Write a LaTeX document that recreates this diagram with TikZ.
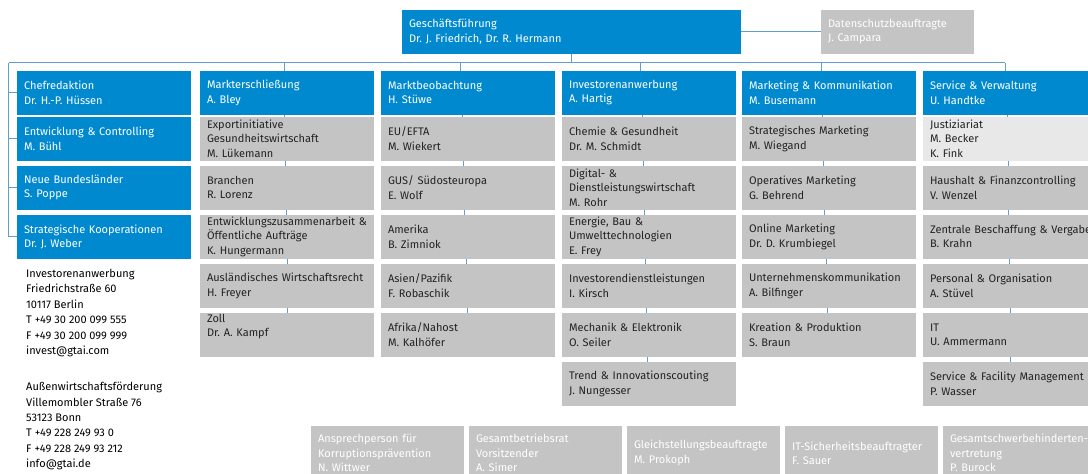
\documentclass[tikz,border=0pt]{standalone}
\usepackage{fontspec}
\setmainfont{Fira Sans}
\frenchspacing
\definecolor{gtaiblue}{RGB}{0,137,207}
\definecolor{gtaigray}{RGB}{196,196,196}
\definecolor{gtailight}{RGB}{232,232,232}
\definecolor{gtailine}{RGB}{96,158,204}
\definecolor{gtaitext}{RGB}{35,35,35}
\tikzset{
  box/.style={rectangle,anchor=north west,inner xsep=7pt,inner ysep=0pt,outer sep=0pt,
    text width=160pt,minimum height=43.5pt,align=left,font=\fontsize{11}{14.3}\selectfont},
  head/.style={box,fill=gtaiblue,text=white},
  unit/.style={box,fill=gtaigray,text=gtaitext},
  staff/.style={box,fill=gtaigray,text=white,text width=139pt,minimum height=54pt},
  addr/.style={anchor=north west,inner sep=0pt,align=left,font=\fontsize{11}{15.4}\selectfont},
  link/.style={draw=gtailine,line width=0.8pt}
}
\begin{document}
\begin{tikzpicture}[x=1pt,y=-1pt]
\useasboundingbox (0,0) rectangle (1088,474);
\clip (0,0) rectangle (1088,474);
% management
\node[head,text width=325pt] (gf) at (402,10) {Geschäftsführung\\Dr. J. Friedrich, Dr. R. Hermann};
\node[staff,minimum height=43.5pt] (ds) at (821,10) {Datenschutzbeauftragte\\J. Campara};
% departments
\node[head] (chef) at (17,71) {Chefredaktion\\Dr. H.-P. Hüssen};
\node[head] (mkt)  at (200,71) {Markterschließung\\A. Bley};
\node[head] (mbeo) at (381,71) {Marktbeobachtung\\H. Stüwe};
\node[head] (inv)  at (562,71) {Investorenanwerbung\\A. Hartig};
\node[head] (mark) at (742,71) {Marketing \& Kommunikation\\M. Busemann};
\node[head] (serv) at (923,71) {Service \& Verwaltung\\U. Handtke};
\node[head] (entw)  at (17,117) {Entwicklung \& Controlling\\M. Bühl};
\node[head] (nbl)   at (17,166) {Neue Bundesländer\\S. Poppe};
\node[head] (strat) at (17,215) {Strategische Kooperationen\\Dr. J. Weber};
% Markterschliessung
\node[unit] (mkt1) at (200,117) {Exportinitiative\\Gesundheitswirtschaft\\M. Lükemann};
\node[unit] (mkt2) at (200,166) {Branchen\\R. Lorenz};
\node[unit] (mkt3) at (200,215) {\mbox{Entwicklungszusammenarbeit \&}\\Öffentliche Aufträge\\K. Hungermann};
\node[unit] (mkt4) at (200,264) {\mbox{Ausländisches Wirtschaftsrecht}\\H. Freyer};
\node[unit] (mkt5) at (200,313) {Zoll\\Dr. A. Kampf\\\strut};
% Marktbeobachtung
\node[unit] (mbeo1) at (381,117) {EU/EFTA\\M. Wiekert};
\node[unit] (mbeo2) at (381,166) {GUS/ Südosteuropa\\E. Wolf};
\node[unit] (mbeo3) at (381,215) {Amerika\\B. Zimniok};
\node[unit] (mbeo4) at (381,264) {Asien/Pazifik\\F. Robaschik};
\node[unit] (mbeo5) at (381,313) {Afrika/Nahost\\M. Kalhöfer};
% Investorenanwerbung
\node[unit] (inv1) at (562,117) {Chemie \& Gesundheit\\Dr. M. Schmidt};
\node[unit] (inv2) at (562,166) {Digital- \&\\Dienstleistungswirtschaft\\M. Rohr};
\node[unit] (inv3) at (562,215) {Energie, Bau \&\\Umwelttechnologien\\E. Frey};
\node[unit] (inv4) at (562,264) {Investorendienstleistungen\\I. Kirsch};
\node[unit] (inv5) at (562,313) {Mechanik \& Elektronik\\O. Seiler};
\node[unit] (inv6) at (562,362) {\mbox{Trend \& Innovationscouting}\\J. Nungesser};
% Marketing
\node[unit] (mark1) at (742,117) {Strategisches Marketing\\M. Wiegand};
\node[unit] (mark2) at (742,166) {Operatives Marketing\\G. Behrend};
\node[unit] (mark3) at (742,215) {Online Marketing\\Dr. D. Krumbiegel};
\node[unit] (mark4) at (742,264) {Unternehmenskommunikation\\A. Bilfinger};
\node[unit] (mark5) at (742,313) {Kreation \& Produktion\\S. Braun};
% Service
\node[unit,fill=gtailight] (serv1) at (923,117) {Justiziariat\\M. Becker\\K. Fink};
\node[unit] (serv2) at (923,166) {\mbox{Haushalt \& Finanzcontrolling}\\V. Wenzel};
\node[unit] (serv3) at (923,215) {\mbox{Zentrale Beschaffung \& Vergabe}\\B. Krahn};
\node[unit] (serv4) at (923,264) {Personal \& Organisation\\A. Stüvel};
\node[unit] (serv5) at (923,313) {IT\\U. Ammermann};
\node[unit] (serv6) at (923,362) {\mbox{Service \& Facility Management}\\P. Wasser};
% staff units
\node[staff] (st1) at (311,426) {Ansprechperson für\\Korruptionsprävention\\N. Wittwer};
\node[staff] (st2) at (469,426) {Gesamtbetriebsrat\\Vorsitzender\\A. Simer};
\node[staff] (st3) at (627,426) {Gleichstellungsbeauftragte\\M. Prokoph};
\node[staff] (st4) at (785,426) {IT-Sicherheitsbeauftragter\\F. Sauer};
\node[staff] (st5) at (943,426) {Gesamtschwerbehinderten-\\vertretung\\P. Burock};
% addresses
\node[addr] (addr1) at (26,269) {Investorenanwerbung\\Friedrichstraße 60\\10117 Berlin\\T +49 30 200 099 555\\F +49 30 200 099 999\\invest@gtai.com};
\node[addr] (addr2) at (26,382) {Außenwirtschaftsförderung\\Villemombler Straße 76\\53123 Bonn\\T +49 228 249 93 0\\F +49 228 249 93 212\\info@gtai.de};
% lines
\coordinate (busL) at (8.5,62.5);
\coordinate (busR) at (1005,62.5);
\draw[link] (gf.east) -- (ds.west);
\draw[link] (busL) -- (busR);
\draw[link] (gf.south) -- (gf.south |- busL);
\draw[link] (busL) |- (strat.west);
\foreach \n in {chef,entw,nbl}
  \draw[link] (busL |- \n.west) -- (\n.west);
\foreach \n/\s in {mkt/-3,mbeo/-8,inv/-9,mark/-8,serv/-5}
  \draw[link] ([xshift=\s]\n.north) -- ([xshift=\s]\n.north |- busL);
\foreach \a/\b/\s in {mkt/mkt1/-3,mkt1/mkt2/-2,mkt2/mkt3/-1,mkt3/mkt4/0,mkt4/mkt5/0,
    mbeo/mbeo1/-6,mbeo1/mbeo2/-5,mbeo2/mbeo3/-4,mbeo3/mbeo4/-2,mbeo4/mbeo5/-1,
    inv/inv1/-7,inv1/inv2/-6,inv2/inv3/-5,inv3/inv4/-4,inv4/inv5/-3,inv5/inv6/-2,
    mark/mark1/-7,mark1/mark2/-6,mark2/mark3/-5,mark3/mark4/-3,mark4/mark5/-2,
    serv/serv1/-3,serv1/serv2/-2,serv2/serv3/-2,serv3/serv4/-1,serv4/serv5/0,serv5/serv6/0}
  \draw[link] ([xshift=\s]\a.south) -- ([xshift=\s]\b.north);
\end{tikzpicture}
\end{document}
